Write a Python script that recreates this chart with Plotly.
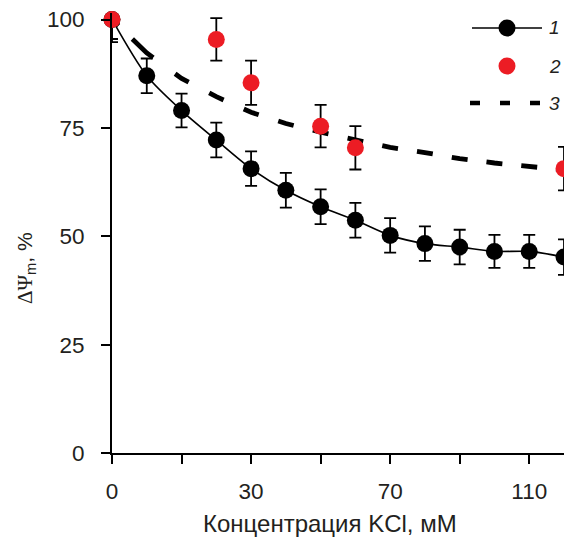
import math
import plotly.graph_objects as go

# ---------------- data ----------------
conc = ["0", "7.5", "15", "22.5", "30", "40", "50", "60", "70", "80", "90", "100", "110", "120"]
s1 = [100, 87.0, 79.0, 72.2, 65.6, 60.6, 56.8, 53.7, 50.2, 48.3, 47.5, 46.5, 46.5, 45.2]
s1_err = [4.5, 4.0, 3.9, 4.0, 4.0, 4.0, 4.0, 4.0, 4.0, 4.0, 4.0, 3.8, 3.8, 4.1]
s2_x = ["0", "22.5", "30", "50", "60", "120"]
s2 = [100, 95.4, 85.4, 75.4, 70.4, 65.6]
s2_err = [5.2, 4.9, 5.1, 4.9, 5.0, 5.0]
s3 = [100, 92.3, 86.4, 82.2, 78.6, 76.0, 74.0, 72.2, 70.5, 69.3, 67.9, 66.9, 66.0, 65.3]
x_tickvals = ["0", "15", "30", "50", "70", "90", "110"]
x_ticktext = ["0", "", "30", "", "70", "", "110"]
y_ticks = [0, 25, 50, 75, 100]
legend_labels = ["1", "2", "3"]
x_title = "Концентрация KCl, мМ"
y_title = '<span style="font-family:\'Times New Roman\', \'Liberation Serif\', serif">ΔΨ</span><sub>m</sub>, %'

# ---------------- layout constants ----------------
W, H = 564, 538
ML, MR, MT, MB = 112, 0, 13, 85
XR = [0, 13]
YR = [0, 101.5]
PW, PH = W - ML - MR, H - MT - MB
px_x = PW / (XR[1] - XR[0])
px_y = PH / (YR[1] - YR[0])


def paper_x(px):
    return (px - ML) / PW


def paper_y(py):
    return (H - MB - py) / PH


RED = "#EC1C24"
TXT = "#231F20"
FONT = "Arial, 'Liberation Sans', sans-serif"

# dash pattern for series 3: a dash across every data point
a, b = 9, 7
pattern = [a]
for i in range(len(s3) - 1):
    L = math.hypot(px_x, (s3[i + 1] - s3[i]) * px_y)
    bb = b if i > 0 else 20
    pattern.append(max(L - a - bb, 1))
    pattern.append(a + bb if i > 0 else bb + 8)
dash3 = ",".join(f"{v:.1f}px" for v in pattern)

fig = go.Figure()

fig.add_trace(go.Scatter(
    x=conc, y=s3, mode="lines",
    line=dict(color="black", width=4.8, dash=dash3),
    cliponaxis=False, showlegend=False, hoverinfo="skip"))

fig.add_trace(go.Scatter(
    x=conc, y=s1, mode="lines+markers",
    line=dict(color="black", width=1.6, shape="spline", smoothing=0.8),
    marker=dict(color="black", size=17),
    error_y=dict(type="data", array=s1_err, color="black", thickness=1.8, width=6),
    cliponaxis=False, showlegend=False))

fig.add_trace(go.Scatter(
    x=s2_x, y=s2, mode="markers",
    marker=dict(color=RED, size=17),
    error_y=dict(type="data", array=s2_err, color="black", thickness=1.8, width=6),
    cliponaxis=False, showlegend=False))

# ---------------- manual legend (pixel coordinates overlay) ----------------
LX0, LX1, LXM, LTX = 472, 542, 507, 547
LY = [28, 66, 103]
fig.add_trace(go.Scatter(x=[LX0, LX1], y=[LY[0], LY[0]], mode="lines",
                         line=dict(color="black", width=1.6),
                         xaxis="x2", yaxis="y2", showlegend=False, hoverinfo="skip"))
fig.add_trace(go.Scatter(x=[LXM], y=[LY[0]], mode="markers",
                         marker=dict(color="black", size=17),
                         xaxis="x2", yaxis="y2", showlegend=False, hoverinfo="skip"))
fig.add_trace(go.Scatter(x=[LXM], y=[LY[1]], mode="markers",
                         marker=dict(color=RED, size=17),
                         xaxis="x2", yaxis="y2", showlegend=False, hoverinfo="skip"))
fig.add_trace(go.Scatter(x=[LX0 - 2, LX1 - 2], y=[LY[2], LY[2]], mode="lines",
                         line=dict(color="black", width=4.5, dash="10px,20px"),
                         xaxis="x2", yaxis="y2", showlegend=False, hoverinfo="skip"))
annotations = []
for lab, ly in zip(legend_labels, LY):
    annotations.append(dict(x=paper_x(LTX), y=paper_y(ly), xref="paper", yref="paper", text=lab,
                            showarrow=False, xanchor="left", yanchor="middle",
                            font=dict(family=FONT, size=19, color=TXT, style="italic")))
annotations.append(dict(x=paper_x(330), y=paper_y(523), xref="paper", yref="paper",
                        text=x_title, showarrow=False, xanchor="center", yanchor="middle",
                        font=dict(family=FONT, size=24, color=TXT)))
annotations.append(dict(x=paper_x(26), y=paper_y(268), xref="paper", yref="paper",
                        text=y_title, showarrow=False, xanchor="center", yanchor="middle",
                        textangle=-90, font=dict(family=FONT, size=21, color=TXT)))

fig.update_layout(
    width=W, height=H,
    margin=dict(l=ML, r=MR, t=MT, b=MB, pad=0, autoexpand=False),
    paper_bgcolor="white", plot_bgcolor="white",
    font=dict(family=FONT, color=TXT, size=21),
    showlegend=False,
    annotations=annotations,
    xaxis=dict(
        type="category", categoryorder="array", categoryarray=conc,
        range=XR, tickmode="array", tickvals=x_tickvals, ticktext=x_ticktext,
        showline=True, linecolor="black", linewidth=1.8,
        ticks="outside", ticklen=9, tickwidth=1.8, tickcolor="black",
        showgrid=False, zeroline=False, tickfont=dict(size=22.5, color=TXT),
        ticklabelstandoff=8, automargin=False,
    ),
    yaxis=dict(
        range=YR, tickmode="array", tickvals=y_ticks,
        showline=True, linecolor="black", linewidth=1.8,
        ticks="outside", ticklen=9, tickwidth=1.8, tickcolor="black",
        showgrid=False, zeroline=False, tickfont=dict(size=22.5, color=TXT),
        ticklabelstandoff=12, automargin=False,
    ),
    xaxis2=dict(overlaying="x", range=[ML, W - MR], visible=False, fixedrange=True),
    yaxis2=dict(overlaying="y", range=[H - MB, MT], visible=False, fixedrange=True),
)

fig.write_html("out.html", config={"displayModeBar": False},
               post_script="document.body.style.margin='0';document.body.style.overflow='hidden';")
